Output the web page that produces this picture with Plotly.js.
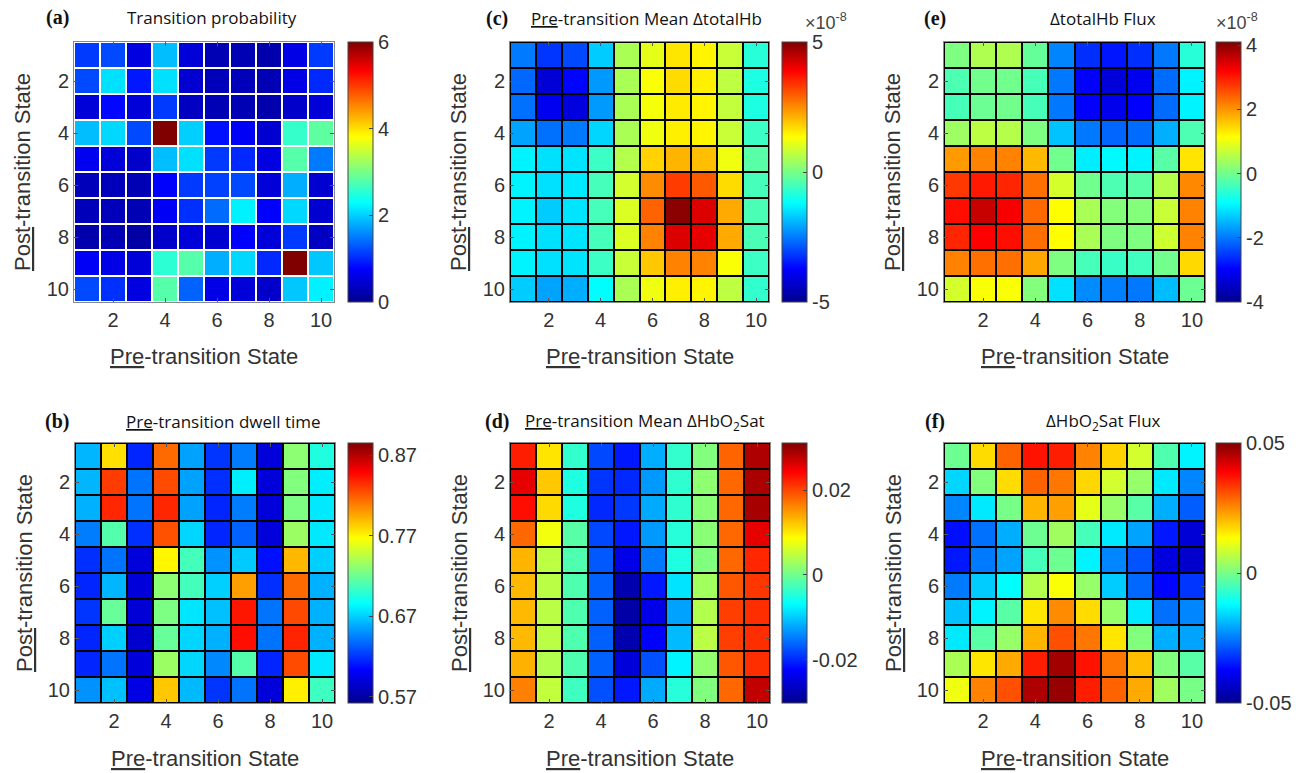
<!DOCTYPE html>
<html><head><meta charset="utf-8">
<script src="https://cdn.plot.ly/plotly-3.0.1.min.js"></script>
<style>html,body{margin:0;padding:0;background:#fff}</style>
</head><body><div id="chart" style="width:1309px;height:773px"></div>
<script>
const states = [1,2,3,4,5,6,7,8,9,10];
const tickStates = [2,4,6,8,10];

// (a) Transition probability (rows = post state 1..10, cols = pre state 1..10)
const zA = [
 [1.1,1.2,0.55,1.9,0.5,0.25,0.25,0.2,0.6,1.1],
 [1.2,2.1,0.9,2.1,0.45,0.3,0.3,0.25,0.6,1.0],
 [0.5,0.8,0.5,1.1,0.35,0.25,0.25,0.2,0.4,0.5],
 [1.9,2.05,1.2,6.0,2.0,0.85,0.7,0.45,2.6,2.85],
 [0.65,0.5,0.4,1.9,2.1,1.1,1.0,0.55,2.8,1.5],
 [0.3,0.3,0.25,0.75,1.1,1.15,1.2,0.5,1.8,0.45],
 [0.3,0.3,0.25,0.7,1.05,1.4,2.2,0.75,2.05,0.45],
 [0.2,0.25,0.15,0.4,0.5,0.45,0.75,0.5,1.1,0.35],
 [0.7,0.6,0.5,2.55,2.8,1.8,2.05,1.0,6.0,1.95],
 [1.2,1.05,0.55,2.8,1.35,0.6,0.5,0.4,1.95,2.2]
];
// (b) Pre-transition dwell time
const zB = [
 [0.662,0.777,0.615,0.815,0.655,0.62,0.643,0.59,0.73,0.695],
 [0.662,0.83,0.64,0.825,0.655,0.618,0.68,0.59,0.727,0.68],
 [0.66,0.837,0.64,0.837,0.655,0.615,0.643,0.59,0.725,0.678],
 [0.643,0.712,0.618,0.823,0.672,0.615,0.635,0.59,0.735,0.678],
 [0.618,0.64,0.59,0.77,0.707,0.65,0.668,0.608,0.79,0.67],
 [0.615,0.662,0.59,0.73,0.707,0.67,0.798,0.618,0.815,0.66],
 [0.62,0.718,0.588,0.725,0.677,0.665,0.842,0.64,0.826,0.66],
 [0.615,0.67,0.585,0.718,0.672,0.66,0.845,0.64,0.838,0.66],
 [0.615,0.64,0.59,0.735,0.672,0.647,0.712,0.615,0.825,0.678],
 [0.65,0.665,0.593,0.785,0.663,0.62,0.64,0.59,0.772,0.705]
];
// (c) Pre-transition Mean ΔtotalHb (×1e-8)
const zC = [
 [-2.5,-3.2,-3.0,-1.7,0.5,1.1,1.6,1.45,0.8,-0.8],
 [-2.7,-4.2,-3.7,-2.2,0.5,1.3,1.7,1.5,0.7,-0.9],
 [-2.6,-3.9,-4.1,-2.2,0.5,1.25,1.55,1.45,0.75,-0.9],
 [-2.1,-2.6,-2.5,-1.6,0.5,1.2,1.5,1.45,0.8,-0.6],
 [-1.3,-1.5,-1.45,-0.6,0.6,1.8,2.1,2.0,1.2,-0.3],
 [-1.3,-1.5,-1.4,-0.5,0.9,2.5,3.3,3.0,1.7,-0.5],
 [-1.3,-1.7,-1.45,-0.5,1.0,2.9,4.9,4.2,2.2,-0.45],
 [-1.3,-1.5,-1.45,-0.5,1.0,2.6,4.2,4.1,2.2,-0.45],
 [-1.3,-1.5,-1.45,-0.6,0.8,1.9,2.6,2.6,1.3,-0.6],
 [-1.7,-2.1,-2.0,-1.2,0.5,1.2,1.5,1.45,0.7,-0.7]
];
// (d) Pre-transition Mean ΔHbO2Sat
const zD = [
 [0.0225,0.0103,-0.0038,-0.018,-0.021,-0.0118,-0.0038,0.0011,0.0182,0.0286],
 [0.0256,0.0121,-0.005,-0.0192,-0.02,-0.013,-0.004,0.0018,0.018,0.0288],
 [0.0235,0.011,-0.005,-0.02,-0.019,-0.012,-0.004,0.0015,0.018,0.029],
 [0.018,0.008,-0.0015,-0.018,-0.021,-0.013,-0.0045,0.0015,0.018,0.0256],
 [0.0133,0.0047,-0.002,-0.017,-0.024,-0.015,-0.005,0.001,0.018,0.022],
 [0.013,0.0045,-0.002,-0.0165,-0.028,-0.021,-0.0085,0.003,0.019,0.021],
 [0.013,0.0045,-0.002,-0.0165,-0.0285,-0.024,-0.0125,0.004,0.0205,0.0215],
 [0.013,0.0045,-0.002,-0.0165,-0.028,-0.0225,-0.011,0.0045,0.0205,0.0215],
 [0.0135,0.004,-0.002,-0.0165,-0.025,-0.0175,-0.0075,0.002,0.019,0.0215],
 [0.0165,0.005,-0.003,-0.0175,-0.021,-0.012,-0.0045,0.001,0.018,0.0275]
];
// (e) ΔtotalHb Flux (×1e-8)
const zE = [
 [0.1,0.5,0.5,-0.1,-1.9,-2.6,-2.8,-2.6,-2.0,-0.6],
 [-0.3,0,0,-0.35,-2.0,-3.0,-3.3,-3.1,-2.1,-1.0],
 [-0.35,-0.05,0,-0.35,-2.0,-3.0,-3.15,-3.0,-2.1,-1.0],
 [0.35,0.6,0.55,0.1,-1.4,-2.0,-2.15,-2.1,-1.55,-0.3],
 [1.95,2.15,2.15,1.7,0,-1.05,-0.95,-1.0,-0.2,1.35],
 [2.75,3.0,2.9,2.3,0.8,0,-0.3,-0.2,0.55,2.1],
 [3.1,3.6,3.25,2.35,1.15,0.45,0.15,0.15,0.7,2.15],
 [2.9,3.2,3.1,2.3,1.15,0.45,0.1,0.1,0.75,2.15],
 [2.15,2.3,2.3,1.85,0.1,-0.35,-0.45,-0.4,0,1.45],
 [0.8,1.1,1.1,0.15,-1.15,-1.85,-1.95,-2.0,-1.45,-0.05]
];
// (f) ΔHbO2Sat Flux
const zF = [
 [-0.001,0.017,0.029,0.037,0.036,0.026,0.018,0.009,-0.004,-0.013],
 [-0.016,0.001,0.017,0.029,0.027,0.0175,0.009,0.003,-0.014,-0.024],
 [-0.024,-0.014,0,0.021,0.023,0.011,0.003,-0.003,-0.02,-0.028],
 [-0.036,-0.026,-0.02,-0.001,0.004,-0.005,-0.014,-0.021,-0.035,-0.042],
 [-0.035,-0.025,-0.021,-0.005,-0.001,-0.013,-0.024,-0.029,-0.041,-0.043],
 [-0.025,-0.017,-0.012,0.006,0.013,0.003,-0.017,-0.027,-0.037,-0.032],
 [-0.018,-0.013,-0.003,0.016,0.025,0.017,0.003,-0.014,-0.026,-0.024],
 [-0.014,-0.003,0.003,0.021,0.031,0.027,0.016,0.001,-0.02,-0.021],
 [0.005,0.016,0.022,0.036,0.047,0.037,0.027,0.02,0.001,-0.003],
 [0.012,0.026,0.031,0.046,0.048,0.036,0.029,0.022,0.004,0]
];

const cbTicksA = [0,2,4,6], cbTextA = ['0','2','4','6'];
const cbTicksB = [0.57,0.67,0.77,0.87], cbTextB = ['0.57','0.67','0.77','0.87'];
const cbTicksC = [-5,0,5], cbTextC = ['-5','0','5'];
const cbTicksD = [-0.02,0,0.02], cbTextD = ['-0.02','0','0.02'];
const cbTicksE = [-4,-2,0,2,4], cbTextE = ['-4','-2','0','2','4'];
const cbTicksF = [-0.05,0,0.05], cbTextF = ['-0.05','0','0.05'];

const W = 1309, H = 773;
const px = x => x / W, py = y => 1 - y / H;

const jet = [[0,'rgb(0,0,143)'],[0.127,'rgb(0,0,255)'],[0.381,'rgb(0,255,255)'],[0.635,'rgb(255,255,0)'],[0.889,'rgb(255,0,0)'],[1,'rgb(128,0,0)']];

const panels = [
 {z:zA, x0:74,  x1:334,  y0:42,  y1:302, cbx:348,  zmin:0, zmax:6, tv:cbTicksA, tt:cbTextA, white:true},
 {z:zB, x0:75,  x1:335,  y0:443, y1:703, cbx:348,  zmin:0.562, zmax:0.885, tv:cbTicksB, tt:cbTextB},
 {z:zC, x0:510, x1:769,  y0:42,  y1:302, cbx:782,  zmin:-5, zmax:5, tv:cbTicksC, tt:cbTextC},
 {z:zD, x0:510, x1:770,  y0:443, y1:703, cbx:782,  zmin:-0.0302, zmax:0.0311, tv:cbTicksD, tt:cbTextD},
 {z:zE, x0:944, x1:1205, y0:42,  y1:302, cbx:1216, zmin:-4, zmax:4.1, tv:cbTicksE, tt:cbTextE},
 {z:zF, x0:944, x1:1205, y0:443, y1:703, cbx:1216, zmin:-0.05, zmax:0.05, tv:cbTicksF, tt:cbTextF}
];

const tickFont = {family:'Liberation Sans, Arial, sans-serif', size:20, color:'#333'};
const data = [];
const layout = {
  width:W, height:H, margin:{l:0,r:0,t:0,b:0},
  paper_bgcolor:'#fff', plot_bgcolor:'#fff', showlegend:false,
  annotations:[], shapes:[]
};

panels.forEach((p,i) => {
  const n = i===0 ? '' : String(i+1);
  const xa = 'xaxis'+n, ya = 'yaxis'+n;
  data.push({
    type:'heatmap', z:p.z, x:states, y:states,
    xaxis:'x'+n, yaxis:'y'+n,
    colorscale:jet, zmin:p.zmin, zmax:p.zmax,
    xgap:2, ygap:2,
    hoverinfo:'z',
    colorbar:{
      x:px(p.cbx), xanchor:'left', y:py((p.y0+p.y1)/2), yanchor:'middle',
      len:p.y1-p.y0, lenmode:'pixels', thickness:25, thicknessmode:'pixels',
      xpad:0, ypad:0, outlinewidth:1, outlinecolor:'#444',
      tickmode:'array', tickvals:p.tv, ticktext:p.tt,
      ticks:'inside', ticklen:4, tickcolor:'#444',
      tickfont:tickFont
    }
  });
  const common = {
    showline:true, mirror:'ticks', linecolor:'#888', linewidth:1,
    ticks:'inside', ticklen:4, tickcolor:'#555',
    showgrid:false, zeroline:false, tickfont:tickFont,
    tickmode:'array', tickvals:tickStates, ticktext:tickStates.map(String)
  };
  layout[xa] = Object.assign({}, common, {domain:[px(p.x0), px(p.x1)], range:[0.5,10.5], anchor:'y'+n});
  layout[ya] = Object.assign({}, common, {domain:[py(p.y1), py(p.y0)], range:[10.5,0.5], anchor:'x'+n});
  if (!p.white) {
    layout.shapes.push({type:'rect', xref:'x'+n+' domain', yref:'y'+n+' domain', x0:0, x1:1, y0:0, y1:1,
      fillcolor:'#000', line:{width:0}, layer:'below'});
  }
  layout.annotations.push({xref:'paper', yref:'paper', x:px((p.x0+p.x1)/2), y:py(p.y1+55),
    text:'<u>Pre</u>-transition State', showarrow:false, xanchor:'center', yanchor:'middle',
    font:{family:'Liberation Sans, Arial, sans-serif', size:22, color:'#333'}});
  layout.annotations.push({xref:'paper', yref:'paper', x:px(p.x0-51), y:py((p.y0+p.y1)/2),
    text:'<u>Post</u>-transition State', showarrow:false, textangle:-90, xanchor:'center', yanchor:'middle',
    font:{family:'Liberation Sans, Arial, sans-serif', size:22, color:'#333'}});
});

const titleFont = {family:'Open Sans, Noto Sans, sans-serif', size:17, color:'#111'};
const letterFont = {family:'Liberation Serif, Times New Roman, serif', size:20, color:'#111'};
const titles = [
 ['<b>(a)</b>', 57, 18, letterFont], ['Transition probability', 212, 18, titleFont],
 ['<b>(b)</b>', 57, 422, letterFont], ['<u>Pre</u>-transition dwell time', 223, 422, titleFont],
 ['<b>(c)</b>', 497, 19, letterFont], ['<u>Pre</u>-transition Mean ΔtotalHb', 646, 19, titleFont],
 ['<b>(d)</b>', 497, 422, letterFont], ['<u>Pre</u>-transition Mean ΔHbO<sub>2</sub>Sat', 645, 422, titleFont],
 ['<b>(e)</b>', 935, 19, letterFont], ['ΔtotalHb Flux', 1103, 19, titleFont],
 ['<b>(f)</b>', 935, 422, letterFont], ['ΔHbO<sub>2</sub>Sat Flux', 1103, 422, titleFont],
 ['×10<sup>-8</sup>', 826, 21, {family:'Liberation Sans, Arial, sans-serif', size:18, color:'#444'}],
 ['×10<sup>-8</sup>', 1237, 21, {family:'Liberation Sans, Arial, sans-serif', size:18, color:'#444'}]
];
titles.forEach(t => layout.annotations.push({xref:'paper', yref:'paper', x:px(t[1]), y:py(t[2]),
  text:t[0], showarrow:false, xanchor:'center', yanchor:'middle', font:t[3]}));

Plotly.newPlot('chart', data, layout, {displayModeBar:false, staticPlot:true});
</script>
</body></html>
